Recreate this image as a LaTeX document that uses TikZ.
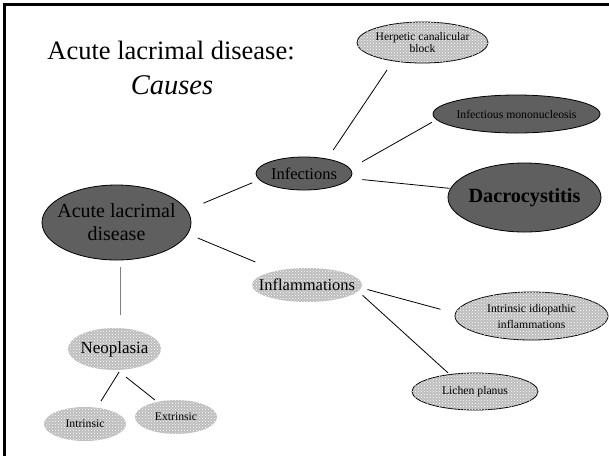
\documentclass[tikz,border=0pt]{standalone}
\usepackage{fontspec}
\setmainfont{Liberation Serif}
\usetikzlibrary{shapes.geometric,patterns}

\definecolor{dark}{HTML}{5F5F5F}
\definecolor{light}{HTML}{BDBDBD}
\tikzset{
  dkell/.style={ellipse, draw=black, fill=dark, inner sep=0pt, outer sep=0pt},
  ltell/.style={ellipse, fill=light, postaction={pattern=crosshatch dots, pattern color=white}, inner sep=0pt, outer sep=0pt},
  ltrim/.style={ltell, draw=black},
  sz/.style 2 args={minimum width=#1pt, minimum height=#2pt},
  txt/.style 2 args={font=\fontsize{#1}{#2}\selectfont, align=center, inner sep=0pt},
  link/.style 2 args={shorten <=#1pt, shorten >=#2pt},
}

\begin{document}
\begin{tikzpicture}[x=1pt, y=-1pt, line width=0.8pt]
\useasboundingbox (0,0) rectangle (609,459);

% ---------------- frame and title ----------------
\draw[line width=3pt] (609,4) -- (4,4) -- (4,456);
\node[txt={26.5}{30}, anchor=base west] (title) at (47,59) {Acute lacrimal disease:};
\node[txt={28}{32}, font=\fontsize{28.5}{32}\selectfont\itshape, anchor=base] (causes) at (172,94) {Causes};

% ---------------- nodes ----------------
\node[dkell, sz={149}{75}, label={[txt={20}{23}]center:Acute lacrimal\\disease}] (ald) at (116.5,222.5) {};
\node[dkell, sz={96}{33}, label={[txt={16.5}{18}]center:Infections}] (inf) at (304,173.5) {};
\node[ltell, sz={110}{34}, label={[txt={16.5}{18}]center:Inflammations}] (infl) at (307,285) {};
\node[ltell, sz={93}{42}, label={[txt={17}{19}]center:Neoplasia}] (neo) at (114.5,349) {};
\node[ltrim, sz={131}{41}, label={[txt={11.6}{12}]center:Herpetic canalicular\\block}] (herp) at (422.5,42.5) {};
\node[dkell, sz={167}{38}, label={[txt={11.7}{13}]center:Infectious mononucleosis}] (mono) at (516.5,114) {};
\node[dkell, sz={153}{69}, label={[txt={20.2}{24}, font=\fontsize{20.2}{24}\selectfont\bfseries]center:Dacrocystitis}] (dac) at (524.5,197.5) {};
\node[ltrim, sz={153}{48}, label={[txt={11.7}{16}]center:Intrinsic idiopathic\\inflammations}] (iii) at (531.5,316) {};
\node[ltrim, sz={126}{37}, label={[txt={11.7}{13}]center:Lichen planus}] (lich) at (475,391.5) {};
\node[ltell, sz={82}{34}, label={[txt={11.7}{13}]center:Intrinsic}] (intr) at (85,424) {};
\node[ltell, sz={82}{34}, label={[txt={11.7}{13}]center:Extrinsic}] (extr) at (176,417) {};

% ---------------- connectors ----------------
\draw[link={18}{8}] (ald.10) -- (inf.188);
\draw[link={11}{23}] (ald.-9) -- (infl.155);
\draw[link={7}{13}, draw=gray, line width=1.5pt] (ald.-84) -- (ald.-84 |- neo.north);
\draw[link={11}{11}] (inf.32) -- (herp.212);
\draw[link={14}{5.5}] (inf.6) -- (mono.184.6);
\draw[link={12.5}{1}] (inf.-6.5) -- (dac.173.5);
\draw[link={6.5}{15.5}] (infl.-3.5) -- (iii.178.6);
\draw[link={6}{2.5}] (infl.-7.9) -- (lich.146);
\draw[link={2.5}{8}] (neo.-74.4) -- (intr.54);
\draw[link={11.5}{3}] (neo.-83) -- (extr.141);
\end{tikzpicture}
\end{document}
